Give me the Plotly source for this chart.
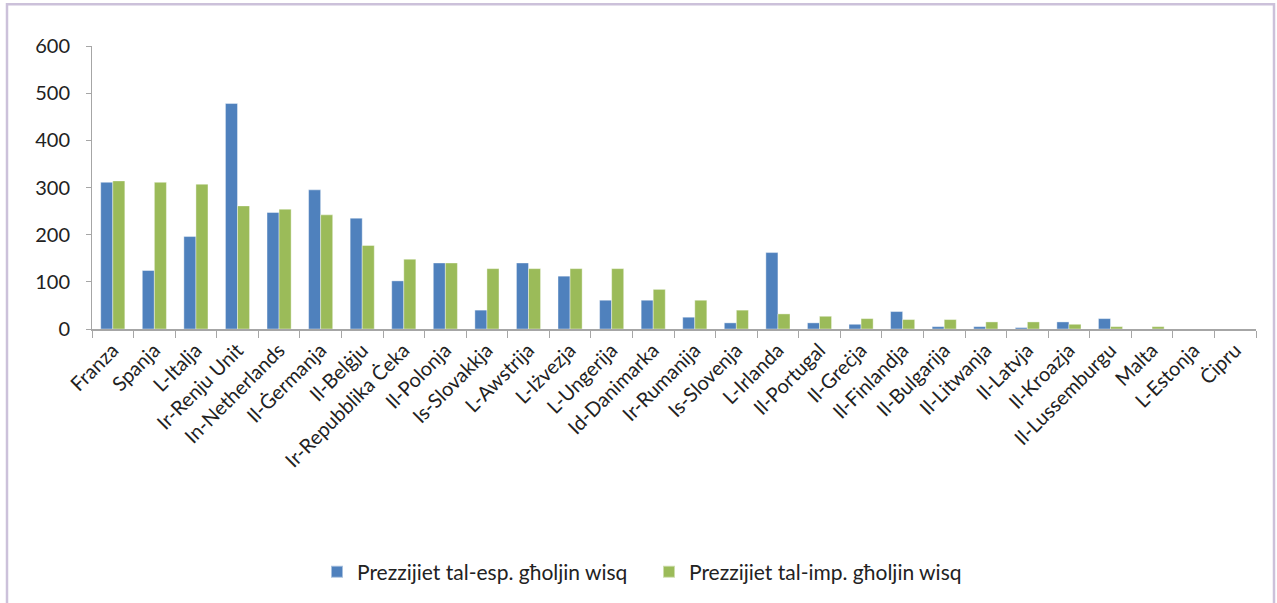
import plotly.graph_objects as go

countries = [
    "Franza", "Spanja", "L-Italja", "Ir-Renju Unit", "In-Netherlands",
    "Il-Ġermanja", "Il-Belġju", "Ir-Repubblika Ċeka", "Il-Polonja",
    "Is-Slovakkja", "L-Awstrija", "L-Iżvezja", "L-Ungerija", "Id-Danimarka",
    "Ir-Rumanija", "Is-Slovenja", "L-Irlanda", "Il-Portugal", "Il-Greċja",
    "Il-Finlandja", "Il-Bulgarija", "Il-Litwanja", "Il-Latvja", "Il-Kroazja",
    "Il-Lussemburgu", "Malta", "L-Estonja", "Ċipru",
]

export_high = [
    311, 124, 196, 478, 247, 295, 235, 102, 140, 40, 140, 112, 61, 61,
    25, 13, 162, 13, 10, 37, 5, 5, 3, 15, 22, 0, 0, 0,
]

import_high = [
    314, 311, 307, 261, 254, 242, 177, 148, 140, 128, 128, 128, 128, 84,
    61, 40, 32, 27, 22, 20, 20, 15, 15, 10, 5, 5, 0, 0,
]

series_names = [
    "Prezzijiet tal-esp. għoljin wisq",
    "Prezzijiet tal-imp. għoljin wisq",
]

y_ticks = [0, 100, 200, 300, 400, 500, 600]

FONT = "Lato"
TEXT = "#222222"
AXIS_GREY = "#A6A6A6"

fig = go.Figure()
fig.add_trace(go.Bar(
    x=countries, y=export_high, name=series_names[0],
    marker=dict(color="#4F81BD", line=dict(color="rgba(255,255,255,0.5)", width=0.8)),
))
fig.add_trace(go.Bar(
    x=countries, y=import_high, name=series_names[1],
    marker=dict(color="#9BBB59", line=dict(color="rgba(255,255,255,0.5)", width=0.8)),
))

# plot area spans x 92..1256, y 46..330 in pixels
L, R, T, B = 92, 21, 46, 273
W, H = 1277, 603
pw = W - L - R
ph = H - T - B


def px_to_paper_x(px):
    return (px - L) / pw


def px_to_paper_y(py):
    return (H - B - py) / ph


fig.update_layout(
    width=W, height=H,
    margin=dict(l=L, r=R, t=T, b=B, pad=0),
    paper_bgcolor="white", plot_bgcolor="white",
    barmode="group", bargap=0.42, bargroupgap=0,
    font=dict(family=FONT, size=20, color=TEXT),
    showlegend=True,
    legend=dict(
        orientation="h", xanchor="left", x=px_to_paper_x(317),
        y=px_to_paper_y(572), yanchor="middle",
        font=dict(family=FONT, size=21, color=TEXT),
        itemsizing="constant", traceorder="normal",
        itemwidth=30, entrywidth=287, entrywidthmode="pixels",
    ),
    xaxis=dict(
        type="category", tickangle=-45, tickson="boundaries",
        ticks="outside", ticklen=7, tickcolor=AXIS_GREY, tickwidth=1,
        showline=True, linecolor=AXIS_GREY, linewidth=1.5,
        showgrid=False, zeroline=False,
        tickfont=dict(family=FONT, size=20, color=TEXT),
    ),
    yaxis=dict(
        range=[0, 600], tickvals=y_ticks,
        ticks="outside", ticklen=5, tickcolor=AXIS_GREY, tickwidth=1,
        showline=True, linecolor=AXIS_GREY, linewidth=1,
        showgrid=False, zeroline=False,
        ticklabelstandoff=12,
        tickfont=dict(family=FONT, size=20, color=TEXT),
    ),
    shapes=[dict(
        type="rect", xref="paper", yref="paper",
        x0=px_to_paper_x(7), x1=px_to_paper_x(1274),
        y0=px_to_paper_y(620), y1=px_to_paper_y(4),
        line=dict(color="#CCC1DA", width=2.5), fillcolor="rgba(0,0,0,0)",
        layer="below",
    )],
)

fig.write_html("out.html")
